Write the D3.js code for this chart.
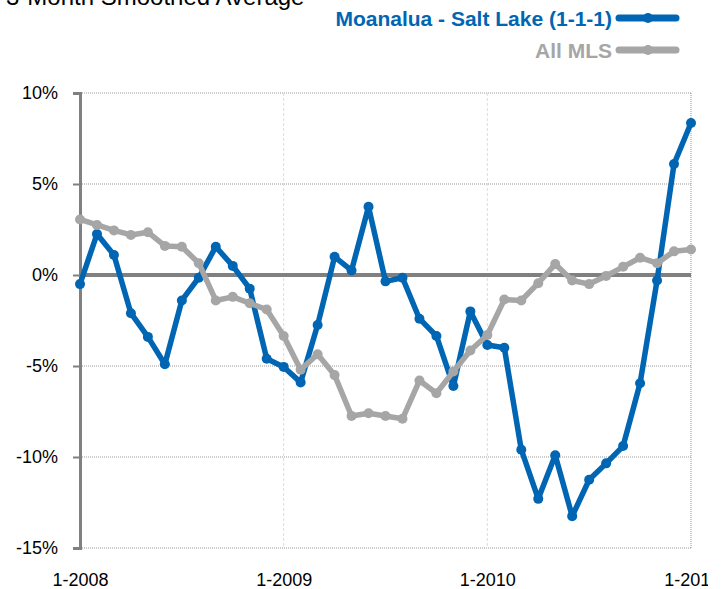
<!DOCTYPE html>
<html>
<head>
<meta charset="utf-8">
<script src="https://cdn.jsdelivr.net/npm/d3@7/dist/d3.min.js"></script>
<style>
  html, body { margin: 0; padding: 0; background: #fff; }
  svg { display: block; font-family: "Liberation Sans", Arial, sans-serif; }
</style>
</head>
<body>
<div id="chart"></div>
<script>
const title = "3-Month Smoothed Average";
const seriesNames = ["Moanalua - Salt Lake (1-1-1)", "All MLS"];
const xTickLabels = ["1-2008", "1-2009", "1-2010", "1-2011"];
const yTicks = [10, 5, 0, -5, -10, -15];

const moanalua = [-0.5, 2.25, 1.1, -2.1, -3.4, -4.9, -1.4, -0.15, 1.55, 0.5, -0.75, -4.6,
  -5.05, -5.9, -2.75, 1.0, 0.25, 3.75, -0.35, -0.15, -2.4, -3.35, -6.1, -2.0,
  -3.85, -4.0, -9.6, -12.3, -9.9, -13.25, -11.25, -10.35, -9.4, -5.95, -0.3, 6.1, 8.35];
const allMLS = [3.05, 2.75, 2.45, 2.2, 2.35, 1.6, 1.55, 0.65, -1.4, -1.2, -1.55, -1.9,
  -3.35, -5.2, -4.35, -5.5, -7.75, -7.6, -7.75, -7.9, -5.8, -6.5, -5.3, -4.15,
  -3.3, -1.35, -1.4, -0.45, 0.6, -0.3, -0.5, -0.05, 0.45, 0.95, 0.65, 1.3, 1.4];

const W = 708, H = 589;
const pLeft = 80, pRight = 691, pTop = 93, pBottom = 548;
const blue = "#0066b3", gray = "#a6a6a6", axisGray = "#808080";

const svg = d3.select("#chart").append("svg").attr("width", W).attr("height", H);

const x = d3.scaleLinear().domain([0, moanalua.length - 1]).range([pLeft, pRight]);
const y = d3.scaleLinear().domain([-15, 10]).range([pBottom, pTop]);

// title (partially cut off at top, as in the reference)
svg.append("text").attr("x", 6).attr("y", 5).attr("font-size", 24).attr("fill", "#000").text(title);

// horizontal dotted gridlines
svg.append("g").selectAll("line").data(yTicks.filter(d => d !== 0)).join("line")
  .attr("x1", pLeft).attr("x2", pRight).attr("y1", d => y(d)).attr("y2", d => y(d))
  .attr("stroke", "#999").attr("stroke-width", 1).attr("stroke-dasharray", "1,1");

// vertical gridlines at year marks
const yearIdx = [12, 24];
svg.append("g").selectAll("line").data(yearIdx).join("line")
  .attr("x1", d => x(d)).attr("x2", d => x(d)).attr("y1", pTop).attr("y2", pBottom)
  .attr("stroke", "#dcdcdc").attr("stroke-width", 1).attr("stroke-dasharray", "3,2");

// right dotted border
svg.append("line").attr("x1", pRight).attr("x2", pRight).attr("y1", pTop).attr("y2", pBottom)
  .attr("stroke", "#999").attr("stroke-width", 1).attr("stroke-dasharray", "1,1");

// zero line
svg.append("line").attr("x1", pLeft).attr("x2", pRight).attr("y1", y(0)).attr("y2", y(0))
  .attr("stroke", axisGray).attr("stroke-width", 4);

// y axis
const yAxis = d3.axisLeft(y).tickValues(yTicks).tickFormat(d => d + "%").tickSize(7).tickPadding(15);
const ya = svg.append("g").attr("transform", `translate(${pLeft},0)`).call(yAxis);
ya.select(".domain").attr("stroke", axisGray).attr("stroke-width", 3);
ya.selectAll(".tick line").attr("stroke", axisGray).attr("stroke-width", 2);
ya.selectAll(".tick text").attr("font-size", 18).attr("fill", "#000")
  .attr("font-family", "Liberation Sans, Arial, sans-serif");

// x axis labels
const xAxis = d3.axisBottom(x).tickValues([0, 12, 24, 36]).tickFormat((d, i) => xTickLabels[i]).tickSize(0).tickPadding(25);
const xa = svg.append("g").attr("transform", `translate(0,${pBottom})`).call(xAxis);
xa.select(".domain").remove();
xa.selectAll(".tick text").attr("font-size", 18).attr("fill", "#000")
  .attr("font-family", "Liberation Sans, Arial, sans-serif");

// series
const line = d3.line().x((d, i) => x(i)).y(d => y(d));
function drawSeries(data, color) {
  svg.append("path").datum(data).attr("d", line).attr("fill", "none")
    .attr("stroke", color).attr("stroke-width", 5.5).attr("stroke-linejoin", "round");
  svg.append("g").selectAll("circle").data(data).join("circle")
    .attr("cx", (d, i) => x(i)).attr("cy", d => y(d)).attr("r", 5).attr("fill", color);
}
drawSeries(moanalua, blue);
drawSeries(allMLS, gray);

// legend
const legend = [
  { name: seriesNames[0], color: blue, y: 18 },
  { name: seriesNames[1], color: gray, y: 50 }
];
legend.forEach(l => {
  svg.append("text").attr("x", 612).attr("y", l.y + 8).attr("text-anchor", "end")
    .attr("font-size", 21).attr("font-weight", "bold").attr("fill", l.color).text(l.name);
  svg.append("line").attr("x1", 619).attr("x2", 676).attr("y1", l.y).attr("y2", l.y)
    .attr("stroke", l.color).attr("stroke-width", 7).attr("stroke-linecap", "round");
  svg.append("circle").attr("cx", 648).attr("cy", l.y).attr("r", 5).attr("fill", l.color);
});
</script>
</body>
</html>
